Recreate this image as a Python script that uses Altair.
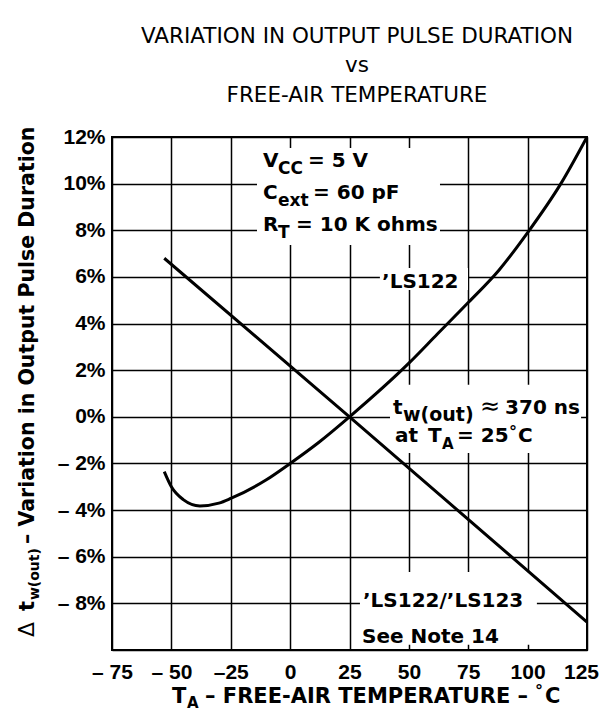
import altair as alt
import pandas as pd

# ---------------- data ----------------
ls122_temp = [-53, -50, -45, -38, -30, -25, -10, 0, 12, 25, 50, 62, 75, 88, 100, 114, 125]
ls122_pct = [-2.35, -3.0, -3.55, -3.82, -3.7, -3.5, -2.7, -2.0, -1.1, 0.0, 2.3, 3.55, 4.9, 6.3, 7.9, 10.0, 12.0]

ls123_temp = [-53, 25, 125]
ls123_pct = [6.8, 0.0, -8.8]

x_ticks = [-75, -50, -25, 0, 25, 50, 75, 100, 125]
x_tick_labels = ["– 75", "– 50", "–25", "0", "25", "50", "75", "100", "125"]
y_ticks = [-10, -8, -6, -4, -2, 0, 2, 4, 6, 8, 10, 12]
y_tick_labels = ["", "– 8%", "– 6%", "– 4%", "– 2%", "0%", "2%", "4%", "6%", "8%", "10%", "12%"]

# white label boxes that interrupt the grid (data units)
box_t1 = [-13.95, 37.8, 42.05, 29.4]
box_t2 = [63.1, 74.9, 122.5, 103.9]
box_p1 = [11.53, 6.38, 1.37, -6.65]
box_p2 = [7.37, 5.44, -1.55, -9.78]

# annotation text pieces (bold, left aligned): text, temp, pct, size
ann_text = ["V", "CC", "= 5 V",
            "C", "ext", "= 60 pF",
            "R", "T", "= 10 K ohms",
            "’LS122",
            "t", "w(out)", "370 ns",
            "at", "T", "A", "= 25", "°", "C",
            "’LS122/’LS123", "See Note 14",
            "T", "A", "– FREE-AIR TEMPERATURE –", "°", "C"]
ann_temp = [-11.42, -5.11, 7.5,
            -11.42, -5.11, 9.63,
            -11.42, -5.11, 2.47,
            38.7,
            43.32, 47.53, 90.5,
            44.16, 58.05, 63.95, 70.26, 92.16, 95.95,
            30.68, 30.26,
            -49.74, -43.42, -35.84, 103.1, 107.3]
ann_pct = [10.71, 10.41, 10.71,
           9.34, 9.04, 9.34,
           7.97, 7.67, 7.97,
           5.52,
           0.12, -0.18, 0.12,
           -1.08, -1.08, -1.38, -1.08, -0.87, -1.08,
           -8.16, -9.70,
           -12.27, -12.49, -12.27, -11.97, -12.27]
ann_size = [20, 17, 20,
            20, 17, 20,
            20, 17, 20,
            20,
            20, 19, 20,
            20, 20, 15, 20, 16, 20,
            20, 20,
            21, 15, 21, 16, 21]

approx_text = ["≈"]
approx_temp = [79.95]
approx_pct = [0.12]

title_text = ["VARIATION IN OUTPUT PULSE DURATION", "vs", "FREE-AIR TEMPERATURE"]
title_temp = [28.16, 28.16, 28.16]
title_pct = [16.03, 14.79, 13.50]

ytitle_text = ["t", "w(out)", "– Variation in Output Pulse Duration"]
ytitle_temp = [-107.84, -105.74, -107.84]
ytitle_pct = [-8.33, -7.86, -5.45]
ytitle_size = [21, 14, 20.5]

delta_text = ["Δ"]
delta_temp = [-107.84]
delta_pct = [-9.44]

# ---------------- chart ----------------
FONT = "DejaVu Sans"
TICK_FONT = "Liberation Sans"


def label_expr(values, labels):
    expr = "''"
    for v, l in reversed(list(zip(values, labels))):
        expr = f"(datum.value == {v} ? '{l}' : {expr})"
    return expr


xscale = alt.Scale(domain=[-75, 125], nice=False, zero=False)
yscale = alt.Scale(domain=[-10, 12], nice=False, zero=False)

common_axis = dict(grid=True, gridColor="black", gridWidth=1.5, gridOpacity=1,
                   domain=False, ticks=False, tickSize=0, title=None,
                   labelFont=TICK_FONT, labelFontSize=21, labelFontWeight="bold",
                   labelColor="black", labelFlush=False, labelOverlap=False)

xaxis = alt.Axis(values=x_ticks, labelExpr=label_expr(x_ticks, x_tick_labels),
                 labelPadding=11,
                 labelOffset={"condition": {"test": "datum.value == 125", "value": -6}, "value": 0},
                 **common_axis)
yaxis = alt.Axis(values=y_ticks, labelExpr=label_expr(y_ticks, y_tick_labels),
                 labelPadding=7, **common_axis)

X = alt.X("temp:Q", scale=xscale, axis=xaxis)
Y = alt.Y("pct:Q", scale=yscale, axis=yaxis)

df_lines = pd.DataFrame({
    "temp": ls122_temp + ls123_temp,
    "pct": ls122_pct + ls123_pct,
    "series": ["LS122"] * len(ls122_temp) + ["LS122/LS123"] * len(ls123_temp),
})

df_boxes = pd.DataFrame({"temp": box_t1, "temp2": box_t2, "pct": box_p1, "pct2": box_p2})

boxes = alt.Chart(df_boxes).mark_rect(color="white").encode(
    x=X, x2="temp2:Q", y=Y, y2="pct2:Q")

lines = alt.Chart(df_lines).mark_line(color="black", strokeWidth=3, interpolate="monotone").encode(
    x=X, y=Y, detail="series:N")

size_enc = alt.Size("size:Q", scale=None, legend=None)

ann = alt.Chart(pd.DataFrame({"temp": ann_temp, "pct": ann_pct, "text": ann_text, "size": ann_size})).mark_text(
    font=FONT, fontWeight="bold", align="left", baseline="alphabetic", color="black").encode(
    x=X, y=Y, text="text:N", size=size_enc)

approx = alt.Chart(pd.DataFrame({"temp": approx_temp, "pct": approx_pct, "text": approx_text})).mark_text(
    font=FONT, fontSize=24, align="left", baseline="alphabetic", color="black").encode(
    x=X, y=Y, text="text:N")

title = alt.Chart(pd.DataFrame({"temp": title_temp, "pct": title_pct, "text": title_text})).mark_text(
    font=FONT, fontSize=21.5, align="center", baseline="alphabetic", color="black").encode(
    x=X, y=Y, text="text:N")

ytitle = alt.Chart(pd.DataFrame({"temp": ytitle_temp, "pct": ytitle_pct, "text": ytitle_text, "size": ytitle_size})).mark_text(
    font=FONT, fontWeight="bold", align="left", baseline="alphabetic", angle=270, color="black").encode(
    x=X, y=Y, text="text:N", size=size_enc)

delta = alt.Chart(pd.DataFrame({"temp": delta_temp, "pct": delta_pct, "text": delta_text})).mark_text(
    font=FONT, fontSize=22, align="left", baseline="alphabetic", angle=270, color="black").encode(
    x=X, y=Y, text="text:N")

chart = alt.layer(boxes, lines, ann, approx, title, ytitle, delta).properties(
    width=475, height=513,
    autosize=alt.AutoSizeParams(type="none"),
    padding={"left": 104, "top": 129, "right": 12, "bottom": 61},
).configure_view(stroke="black", strokeWidth=2)

chart.save("out.html", embed_options={"renderer": "svg", "actions": False})
